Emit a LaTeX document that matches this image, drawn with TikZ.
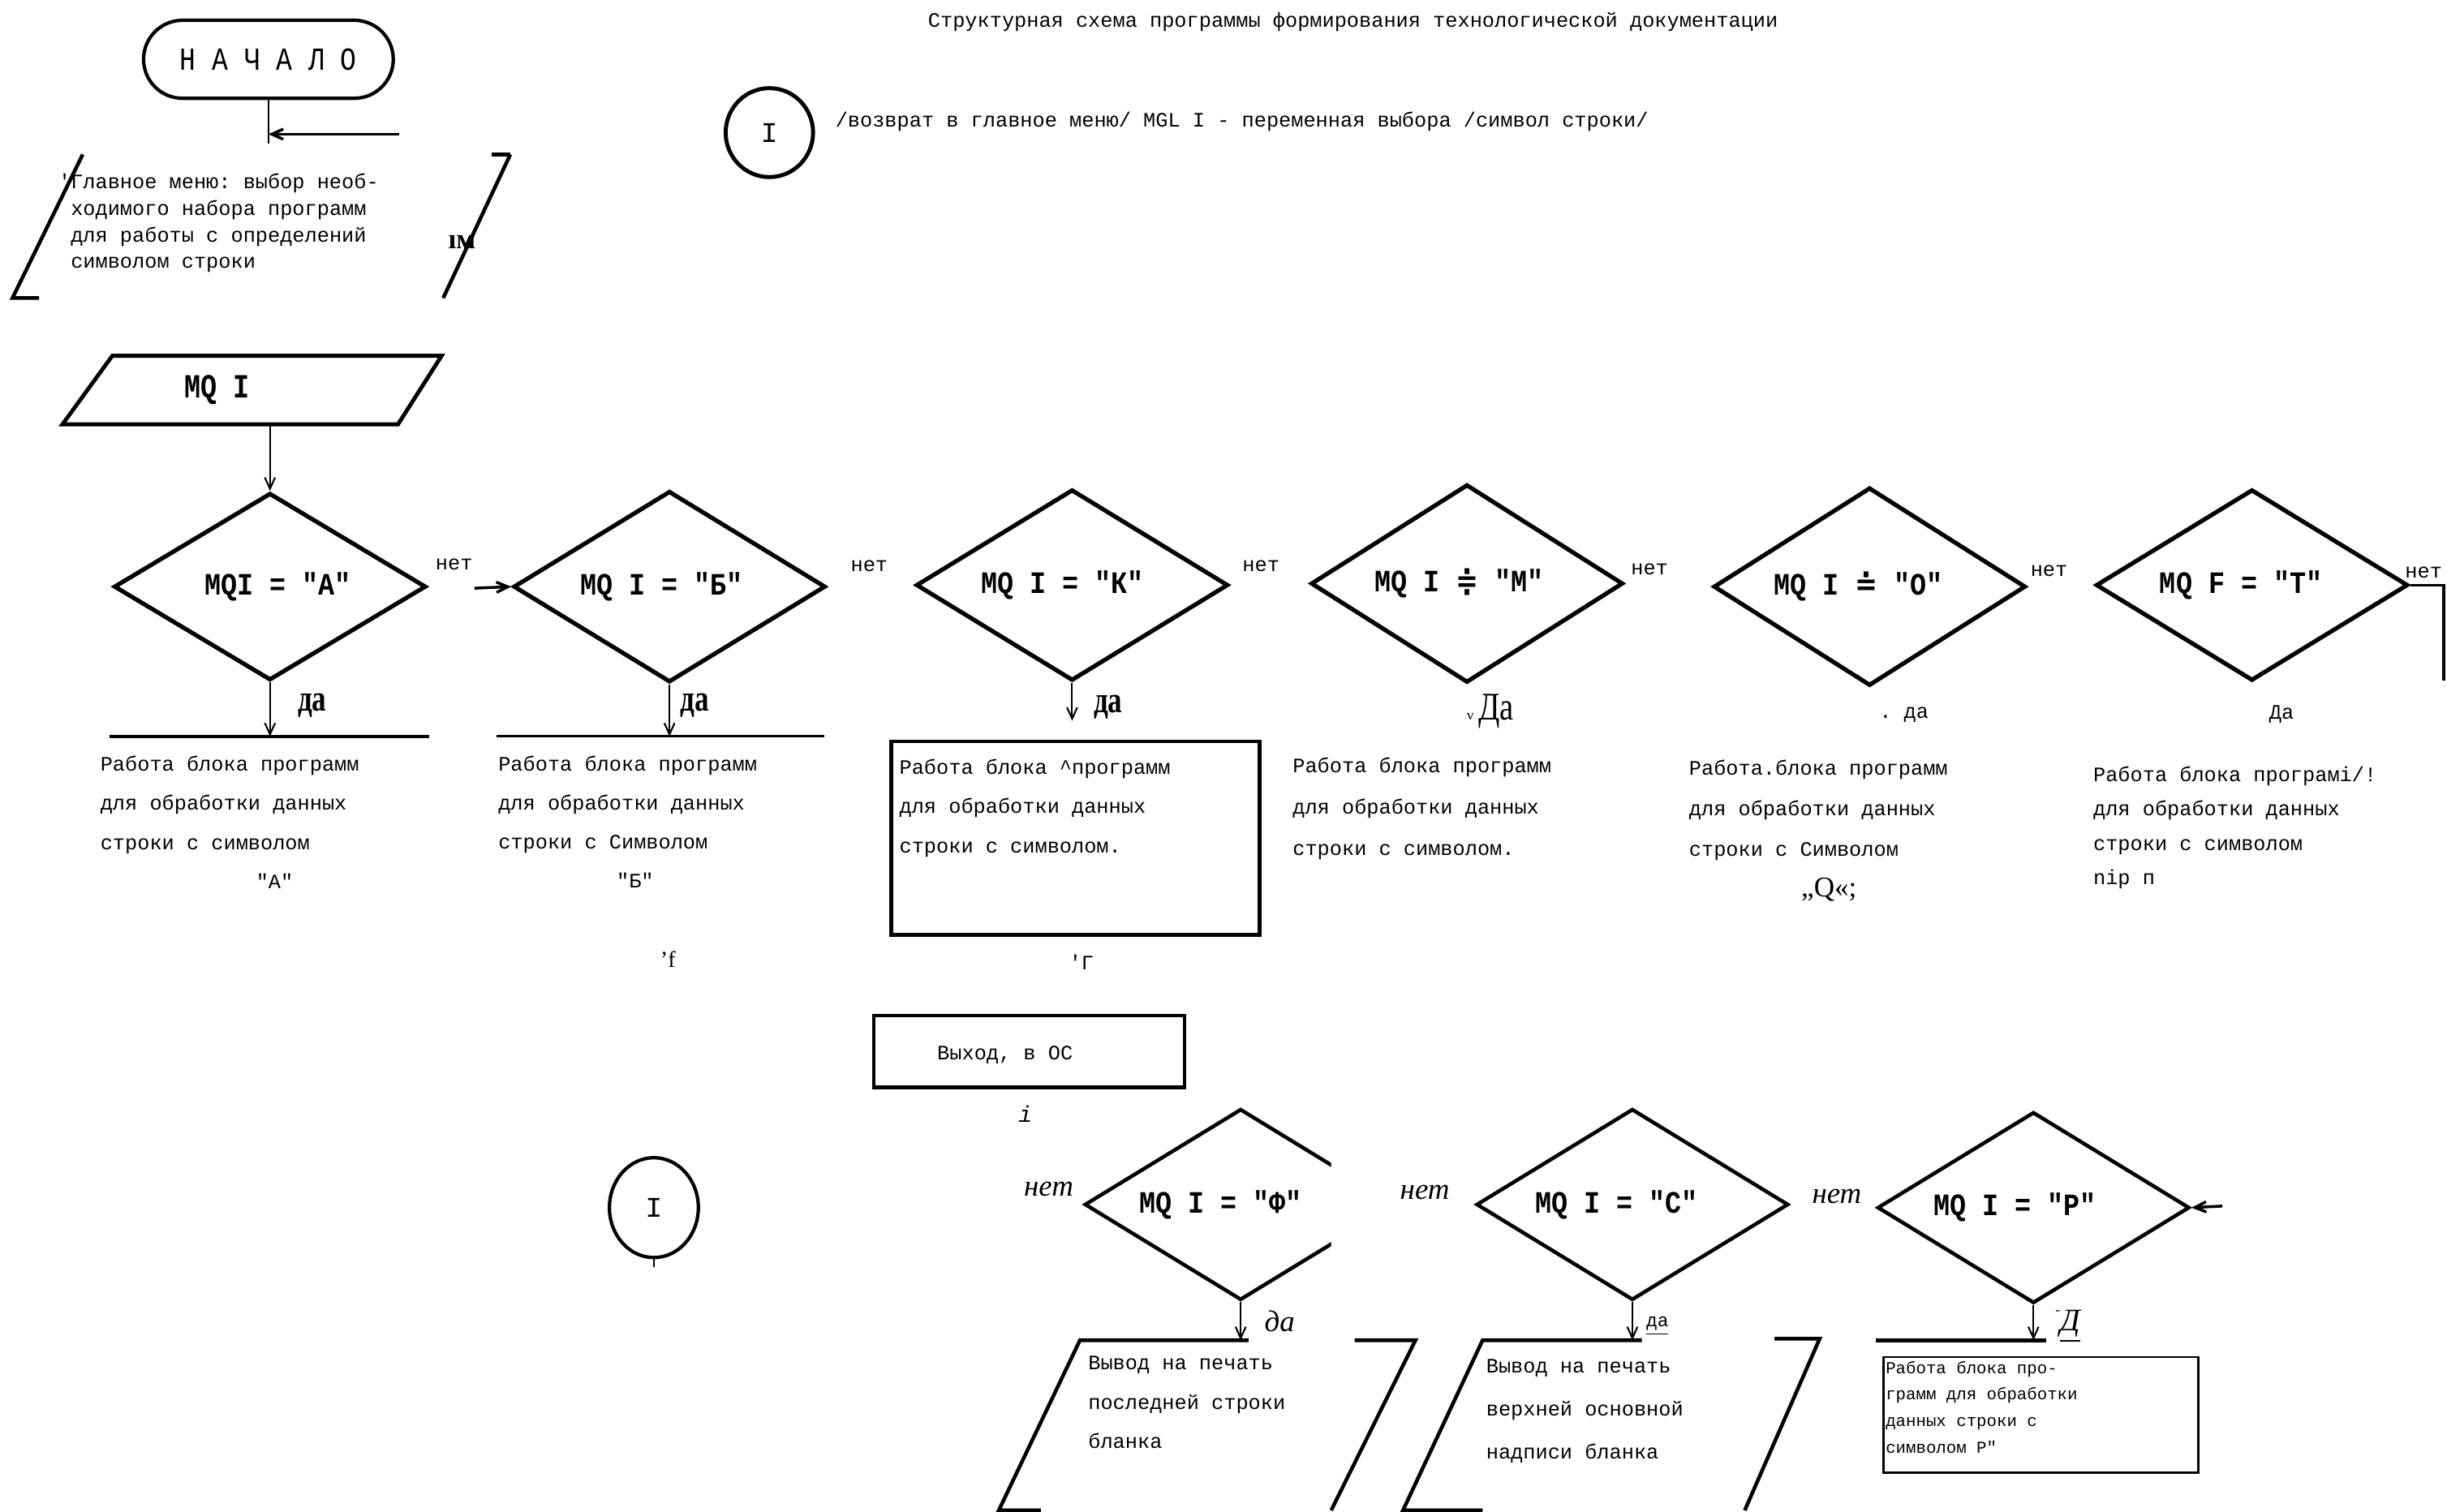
\documentclass[tikz,border=0pt]{standalone}
\usepackage{fontspec}
\setmainfont{Liberation Serif}
\setmonofont{Liberation Mono}
\newfontfamily\symbfont{DejaVu Sans}
\usepackage{graphicx}
\usetikzlibrary{shapes.geometric, arrows.meta, positioning, calc}

\newlength{\unitpx}
\setlength{\unitpx}{0.019235cm}
% typewriter letters are taller than the font
\newcommand{\tall}[2][1.15]{\scalebox{1}[#1]{#2}}
% move a label sideways without changing its width
\newcommand{\nudge}[2]{\hspace*{#1\unitpx}#2\hspace*{-#1\unitpx}}

\begin{document}
\begin{tikzpicture}[x=0.019235cm, y={(0cm,-0.019235cm)},
        term/.style={rectangle, draw, line width=1.2pt, rounded corners=0.48cm, minimum width=160*\unitpx, minimum height=50*\unitpx, inner sep=0pt},
        cond/.style={diamond, draw, line width=1.5pt, minimum width=200*\unitpx, minimum height=120*\unitpx, inner sep=0pt, font=\ttfamily\bfseries\fontsize{9.5}{11}\selectfont},
        cond2/.style={cond, line width=1.3pt, minimum height=118*\unitpx},
        conn/.style={ellipse, draw, line width=1.4pt, inner sep=0pt, font=\ttfamily\fontsize{10}{12}\selectfont},
        procbox/.style={rectangle, draw, line width=1.3pt, inner sep=0pt},
        txt/.style={anchor=north west, inner sep=0pt, align=left, font=\ttfamily\fontsize{7.2}{13.9}\selectfont},
        lbl/.style={inner sep=0pt, font=\ttfamily\fontsize{7.2}{9}\selectfont},
        yes/.style={inner sep=0pt, font=\bfseries\fontsize{10}{12}\selectfont},
        no2/.style={inner sep=0pt, font=\itshape\fontsize{10.5}{12}\selectfont},
        edge/.style={line width=1.3pt},
        line/.style={line width=0.6pt},
        arrow/.style={-{Straight Barb[length=4pt,width=3.6pt]}, line width=0.6pt}
    ]
    \useasboundingbox (0,0) rectangle (1568,969);

    % --- heading ---
    \node [lbl] (title) at (867,14) {Структурная схема программы формирования технологической документации};

    \node [conn, minimum width=56*\unitpx, minimum height=57*\unitpx] (c1) at (493,85) {I};
    \node [lbl, anchor=west] (c1note) at (535,78) {/возврат в главное меню/ MGL I - переменная выбора /символ строки/};

    % --- start and main menu ---
    \node [term] (start) at (172,38) {\ttfamily\fontsize{9.4}{11}\selectfont\tall[1.2]{Н А Ч А Л О}};
    \coordinate (stop1) at (172,92);
    \coordinate (retin) at (256,86);
    \draw [line] (start.south) -- (stop1);
    \draw [arrow, line width=1pt] (retin) -- (start.south |- retin);

    \coordinate (m1) at (53,99);
    \coordinate (m2) at (327,99);
    \coordinate (m3) at (284,191);
    \coordinate (m4) at (8,191);
    \draw [edge] (m1) -- (m4) -- ++(17,0);
    \draw [edge] (m2) -- ++(-12,0);
    \draw [edge] (m2) -- (m3);
    \node [txt, font=\ttfamily\fontsize{7.2}{9.3}\selectfont] (menu) at (45,111) {\llap{'}Главное меню: выбор необ-\\ходимого набора программ\\для работы с определений\\символом строки};
    \node [inner sep=0pt, font=\bfseries\fontsize{10}{11}\selectfont] (junk1) at (296,155) {ıм};

    % --- choice input ---
    \coordinate (i1) at (72,228);
    \coordinate (i2) at (283,228);
    \coordinate (i3) at (255,272);
    \coordinate (i4) at (40,272);
    \draw [line width=1.4pt] (i1) -- (i2) -- (i3) -- (i4) -- cycle;
    \node [inner sep=0pt, font=\ttfamily\bfseries\fontsize{9.5}{11}\selectfont] (mqin) at (139,250) {\tall[1.25]{MQ I}};

    % --- first row of checks ---
    \node [cond] (da) at (173,376) {\nudge{5}{\tall{MQI = "A"}}};
    \node [cond] (db) at (429,376) {\nudge{-5}{\tall{MQ I = "Б"}}};
    \node [cond] (dk) at (687,375) {\nudge{-6}{\tall{MQ I = "К"}}};
    \node [cond] (dm) at (940,374) {\nudge{-5}{\tall{MQ I {\symbfont ≑} "М"}}};
    \node [cond] (do) at (1198,376) {\nudge{-7}{\tall{MQ I {\symbfont ≐} "О"}}};
    \node [cond] (dt) at (1443,375) {\nudge{-7}{\tall{MQ F = "Т"}}};

    \draw [arrow] (da.north |- i4) -- (da.north);

    \node [lbl] (na) at (291,362) {нет};
    \node [lbl] (nb) at (557,363) {нет};
    \node [lbl] (nk) at (808,363) {нет};
    \node [lbl] (nm) at (1057,365) {нет};
    \node [lbl] (no) at (1313,366) {нет};
    \node [lbl] (nt) at (1553,367) {нет};

    \coordinate (bin) at (304,377);
    \draw [arrow, line width=1pt] (bin) -- (db.west);
    \coordinate (tret) at (1566,436);
    \draw [line width=1pt] (dt.east) -| (tret);

    % yes branches
    \coordinate (la1) at (70,472);
    \coordinate (la2) at (275,472);
    \draw [edge] (la1) -- (la2);
    \draw [arrow] (da.south) -- (da.south |- la1);
    \node [yes] (ya) at (200,452) {\tall[1.3]{да}};

    \coordinate (lb1) at (318,472);
    \coordinate (lb2) at (528,472);
    \draw [line width=0.9pt] (lb1) -- (lb2);
    \draw [arrow] (db.south) -- (db.south |- lb1);
    \node [yes] (yb) at (445,452) {\tall[1.3]{да}};

    \coordinate (kyes) at (687,462);
    \draw [arrow] (dk.south) -- (kyes);
    \node [yes] (yk) at (710,453) {\tall[1.3]{да}};

    \node [inner sep=0pt] (ym) at (955,456) {{\fontsize{5}{6}\selectfont v}\,{\fontsize{11}{12}\selectfont\tall[1.25]{Да}}};
    \node [lbl] (yo) at (1220,458) {. да};
    \node [lbl] (yt) at (1462,458) {Да};

    % program blocks
    \node [txt, font=\ttfamily\fontsize{7.2}{13.8}\selectfont] (wa) at (64,484) {Работа блока программ\\для обработки данных\\строки с символом};
    \node [lbl] (qa) at (176,565) {"A"};
    \node [txt, font=\ttfamily\fontsize{7.2}{13.7}\selectfont] (wb) at (319,484) {Работа блока программ\\для обработки данных\\строки с Символом};
    \node [lbl] (qb) at (407,564) {"Б"};
    \node [procbox, anchor=north west, minimum width=236*\unitpx, minimum height=124*\unitpx] (kbox) at (570,474) {};
    \node [txt] (wk) at (576,486) {Работа блока \textasciicircum программ\\для обработки данных\\строки с символом.};
    \node [txt, font=\ttfamily\fontsize{7.2}{14.5}\selectfont] (wm) at (828,485) {Работа блока программ\\для обработки данных\\строки с символом.};
    \node [txt, font=\ttfamily\fontsize{7.2}{14.2}\selectfont] (wo) at (1082,487) {Работа.блока программ\\для обработки данных\\строки с Символом};
    \node [inner sep=0pt, font=\fontsize{10}{12}\selectfont] (qo) at (1172,570) {,,Q«;};
    \node [txt, font=\ttfamily\fontsize{7.2}{12}\selectfont] (wt) at (1341,491) {Работа блока програмі/!\\для обработки данных\\строки с символом\\nip п};

    \node [inner sep=0pt, font=\fontsize{8}{9}\selectfont] (junk2) at (428,615) {'f};
    \node [lbl] (junk3) at (693,617) {'Г};

    % --- exit and second row ---
    \node [procbox, minimum width=199*\unitpx, minimum height=46*\unitpx] (exit) at (659.5,674) {};
    \node [lbl] (exittxt) at (644,676) {Выход, в ОС};
    \node [lbl, font=\ttfamily\itshape\fontsize{8}{9}\selectfont] (junk4) at (657,714) {i};

    \node [conn, line width=1.2pt, minimum width=57*\unitpx, minimum height=64*\unitpx] (c2) at (419,774) {I};
    \draw [line] (c2.south) -- ++(0,5);

    \begin{scope}
        \clip (0,0) rectangle (853,969);
        \node [cond2] (df) at (795,772) {\nudge{-13}{\tall{MQ I = "Ф"}}};
    \end{scope}
    \node [cond2] (dc) at (1046,772) {\nudge{-10}{\tall{MQ I = "С"}}};
    \node [cond2, minimum height=116*\unitpx] (dp) at (1303,774) {\nudge{-12}{\tall{MQ I = "Р"}}};

    \node [no2] (nf) at (672,762) {нет};
    \node [no2] (nc) at (913,764) {нет};
    \node [no2] (np) at (1177,767) {нет};

    \coordinate (pin) at (1424,773);
    \draw [arrow, line width=1pt] (pin) -- (dp.east);

    % print outputs
    \coordinate (fa) at (692,859);
    \coordinate (fb) at (800,859);
    \coordinate (fc) at (640,968);
    \coordinate (fd) at (868,859);
    \coordinate (fe) at (907,859);
    \coordinate (ff) at (853,968);
    \draw [edge] (fb) -- (fa) -- (fc) -- ++(27,0);
    \draw [edge] (fd) -- (fe) -- (ff);
    \draw [arrow] (df.south) -- (df.south |- fa);
    \node [no2] (yf) at (820,847) {да};
    \node [txt, font=\ttfamily\fontsize{7.2}{13.7}\selectfont] (wf) at (697,869) {Вывод на печать\\последней строки\\бланка};

    \coordinate (ca) at (950,859);
    \coordinate (cb) at (1052,859);
    \coordinate (cc) at (899,968);
    \coordinate (cd) at (1137,858);
    \coordinate (ce) at (1166,858);
    \coordinate (cf) at (1118,968);
    \draw [edge] (cb) -- (ca) -- (cc) -- ++(51,0);
    \draw [edge] (cd) -- (ce) -- (cf);
    \draw [arrow] (dc.south) -- (dc.south |- ca);
    \node [lbl, font=\ttfamily\fontsize{6.5}{8}\selectfont] (yc) at (1062,850) {\underline{да}};
    \node [txt, font=\ttfamily\fontsize{7.2}{15}\selectfont] (wc) at (952,871) {Вывод на печать\\верхней основной\\надписи бланка};

    \coordinate (pa) at (1202,859);
    \coordinate (pb) at (1311,859);
    \draw [edge] (pa) -- (pb);
    \draw [arrow] (dp.south) -- (dp.south |- pa);
    \node [inner sep=0pt, font=\itshape\fontsize{11}{12}\selectfont] (yp) at (1325,850) {\raisebox{0.5em}{\tiny -}\underline{Д}};
    \node [procbox, line width=0.8pt, anchor=north west, minimum width=202*\unitpx, minimum height=74*\unitpx] (pbox) at (1206,869) {};
    \node [txt, font=\ttfamily\fontsize{5.9}{9.3}\selectfont] (wp) at (1208,872) {Работа блока про-\\грамм для обработки\\данных строки с\\символом Р"};

\end{tikzpicture}
\end{document}
